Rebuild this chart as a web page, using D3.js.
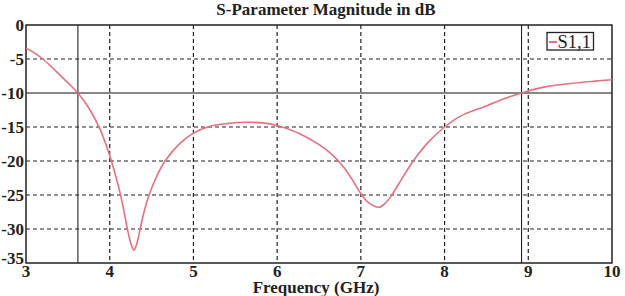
<!DOCTYPE html>
<html>
<head>
<meta charset="utf-8">
<script src="https://cdn.jsdelivr.net/npm/d3@7"></script>
<style>
  html,body{margin:0;padding:0;background:#fff;}
  svg{display:block;}
  text{font-family:"Liberation Serif","Times New Roman",serif;}
</style>
</head>
<body>
<div id="chart"></div>
<script>
(function(){
  const W=625, H=296;
  const freq=[3.0,3.1,3.2,3.3,3.4,3.5,3.62,3.75,3.88,3.95,4.02,4.08,4.13,4.18,4.22,4.26,4.29,4.32,4.36,4.41,4.47,4.56,4.66,4.84,5.0,5.2,5.4,5.64,5.9,6.03,6.27,6.5,6.65,6.8,6.92,7.0,7.1,7.22,7.3,7.37,7.5,7.62,7.8,8.0,8.19,8.5,8.7,8.92,9.2,9.5,9.8,10.0];
  const s11=[-3.4,-4.1,-5.0,-6.1,-7.3,-8.5,-10,-12.2,-15.2,-17.4,-20,-22.6,-25,-28,-30.5,-32.4,-33.1,-32.3,-30.2,-27.5,-25,-22.3,-20,-17.4,-15.9,-14.9,-14.5,-14.3,-14.5,-14.9,-16.0,-17.6,-19.0,-21.0,-23.2,-24.8,-26.2,-26.8,-26.1,-25,-22.4,-20.1,-17.3,-15,-13.4,-11.9,-10.9,-10,-9.1,-8.6,-8.25,-8.05];
  const xTicks=[3,4,5,6,7,8,9,10];
  const yTicks=[0,-5,-10,-15,-20,-25,-30,-35];
  const markerFreqs=[3.62,8.92];
  const markerDb=[-10];

  const svg=d3.select("#chart").append("svg").attr("width",W).attr("height",H);
  const L=26, R=612, T=25, B=263;
  const x=d3.scaleLinear().domain([3,10]).range([L,R]);
  const y=d3.scaleLinear().domain([-35,0]).range([B,T]);

  // dashed grid
  svg.append("g").selectAll("line").data(xTicks.slice(1,-1)).join("line")
    .attr("x1",d=>x(d)).attr("x2",d=>x(d)).attr("y1",T).attr("y2",B)
    .attr("stroke","#222").attr("stroke-width",1.2).attr("stroke-dasharray","4,3");
  svg.append("g").selectAll("line").data(yTicks.slice(1,-1).filter(d=>d!==-10)).join("line")
    .attr("x1",L).attr("x2",R).attr("y1",d=>y(d)).attr("y2",d=>y(d))
    .attr("stroke","#222").attr("stroke-width",1.2).attr("stroke-dasharray","4,3");

  // solid markers
  svg.append("g").selectAll("line").data(markerFreqs).join("line")
    .attr("x1",d=>x(d)).attr("x2",d=>x(d)).attr("y1",T).attr("y2",B)
    .attr("stroke","#111").attr("stroke-width",1);
  svg.append("g").selectAll("line").data(markerDb).join("line")
    .attr("x1",L).attr("x2",R).attr("y1",d=>y(d)).attr("y2",d=>y(d))
    .attr("stroke","#111").attr("stroke-width",1);

  // frame
  svg.append("rect").attr("x",L).attr("y",T).attr("width",R-L).attr("height",B-T)
    .attr("fill","none").attr("stroke","#222").attr("stroke-width",1.5);

  // curve
  const pts=freq.map((f,i)=>[f,s11[i]]);
  svg.append("path").datum(pts)
    .attr("fill","none").attr("stroke","#e8707f").attr("stroke-width",1.6)
    .attr("d",d3.line().x(d=>x(d[0])).y(d=>y(d[1])).curve(d3.curveCatmullRom.alpha(0.5)));

  // tick labels
  svg.append("g").selectAll("text").data(xTicks).join("text")
    .attr("x",d=>x(d)).attr("y",277).attr("text-anchor","middle")
    .attr("font-size",17).attr("font-weight","bold").attr("fill","#222")
    .text(d=>d);
  svg.append("g").selectAll("text").data(yTicks).join("text")
    .attr("x",24).attr("y",d=>d===-35?y(d)-5:y(d)).attr("dy","0.35em").attr("text-anchor","end")
    .attr("font-size",17).attr("font-weight","bold").attr("fill","#222")
    .text(d=>d);

  // titles
  svg.append("text").attr("x",326).attr("y",14.5).attr("text-anchor","middle")
    .attr("font-size",17).attr("font-weight","bold").attr("fill","#222")
    .text("S-Parameter Magnitude in dB");
  svg.append("text").attr("x",316).attr("y",292.5).attr("text-anchor","middle")
    .attr("font-size",17).attr("font-weight","bold").attr("fill","#222")
    .text("Frequency (GHz)");

  // legend
  const lg=svg.append("g");
  lg.append("rect").attr("x",547).attr("y",32.5).attr("width",46.5).attr("height",17.5)
    .attr("fill","#fff").attr("stroke","#222").attr("stroke-width",1.3);
  lg.append("line").attr("x1",549).attr("x2",557).attr("y1",42).attr("y2",42)
    .attr("stroke","#e8707f").attr("stroke-width",2);
  lg.append("text").attr("x",557.5).attr("y",47.5).attr("font-size",18.5).attr("fill","#222").text("S1,1");
})();
</script>
</body>
</html>
